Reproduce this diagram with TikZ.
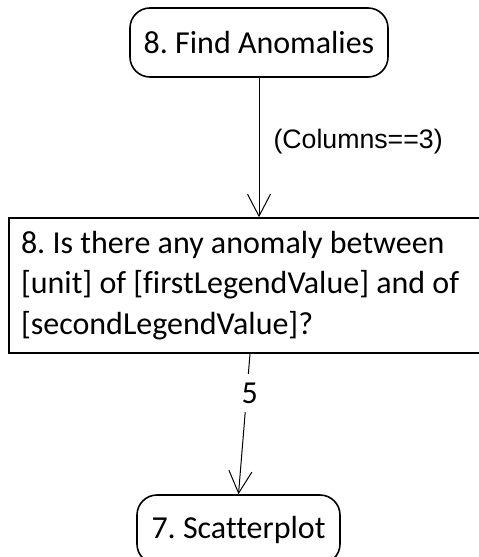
\documentclass[tikz,border=0pt]{standalone}
\usepackage{fontspec}
\setmainfont{Carlito}[Ligatures=NoCommon]
\newfontfamily\arialfont{Liberation Sans}
\usetikzlibrary{arrows.meta}
\frenchspacing

\begin{document}
\begin{tikzpicture}[x=1pt, y=-1pt,
    state/.style={draw, line width=1.6pt, rounded corners=20pt, inner sep=0pt,
      minimum height=69pt, font=\fontsize{32}{40.5}\selectfont},
    question/.style={draw, line width=1.6pt, inner xsep=12pt, inner ysep=0pt,
      minimum width=482pt, minimum height=135pt, text width=458pt, align=flush left,
      font=\fontsize{32}{40.5}\selectfont},
    flow/.style={line width=1pt, -{Straight Barb[length=22pt, width=23pt]}}]
  \useasboundingbox (0, 0) rectangle (479, 557);

  \node[state, minimum width=258pt] (find) at (259, 42.5) {8. Find Anomalies};
  \node[question] (ask) at (250, 285.5)
    {8. Is there any anomaly between\\
     {[unit]} of [firstLegendValue] and of\\
     {[secondLegendValue]?}};
  \node[state, minimum width=203pt] (scatter) at (238.5, 529.5) {7. Scatterplot};

  \draw[flow] (find.south) -- (find.south |- ask.north)
    node[pos=0.46, right, inner sep=14pt, font=\arialfont\fontsize{26.7}{30}\selectfont]
    {(Columns==3)};
  \draw[flow] (ask.south) -- (scatter.north)
    node[pos=0.28, fill=white, inner xsep=2pt, inner ysep=9pt, xshift=3pt,
      font=\fontsize{32}{40.5}\selectfont] {5};
\end{tikzpicture}
\end{document}
